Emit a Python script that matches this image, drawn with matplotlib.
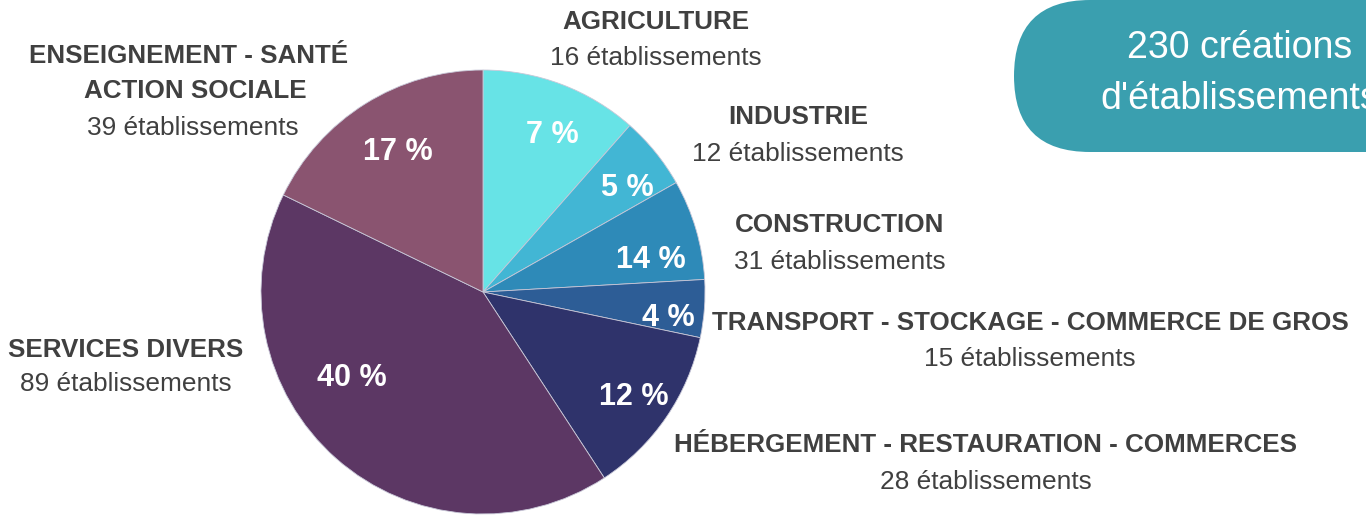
import matplotlib
matplotlib.use('Agg')
import matplotlib.pyplot as plt
from matplotlib.patches import FancyBboxPatch

plt.rcParams['font.family'] = ['Liberation Sans', 'DejaVu Sans']

# data
sectors = ['AGRICULTURE', 'INDUSTRIE', 'CONSTRUCTION',
           'TRANSPORT - STOCKAGE - COMMERCE DE GROS',
           'HÉBERGEMENT - RESTAURATION - COMMERCES',
           'SERVICES DIVERS', 'ENSEIGNEMENT - SANTÉ\nACTION SOCIALE']
counts = [16, 12, 31, 15, 28, 89, 39]
pct_labels = [7, 5, 14, 4, 12, 40, 17]
# slice shares as drawn in the picture (%)
slice_share = [11.5, 5.3, 7.3, 4.2, 12.5, 41.4, 17.8]
total_label = '230 créations\nd\'établissements'

colors = ['#67e3e6', '#42b6d4', '#2e8ab8', '#2d5d96', '#2f336b', '#5c3764', '#8a5470']

W, H = 1366, 515
fig = plt.figure(figsize=(W / 100, H / 100), dpi=100)
ax = fig.add_axes([0, 0, 1, 1])
ax.set_xlim(0, W)
ax.set_ylim(0, H)
ax.set_aspect('equal')
ax.axis('off')

def py(y):  # pixel row -> data y
    return H - y

ax.pie(slice_share, colors=colors, startangle=90, counterclock=False,
       center=(483, py(292)), radius=222,
       wedgeprops=dict(edgecolor='#c8c8d8', linewidth=0.6))
ax.set_xlim(0, W)
ax.set_ylim(0, H)

# percent labels inside slices
pct_pos = [(552, 135), (627, 188), (651, 260), (668, 318), (634, 397), (352, 378), (398, 152)]
for (x, y), p in zip(pct_pos, pct_labels):
    ax.text(x, py(y), f'{p} %', color='white', fontsize=22, fontweight='bold',
            ha='center', va='center')

# outer labels
txt = '#404040'
name_pos = [(656, 22), (798, 117), (840, 225), (1030, 323), (986, 445), (126, 350), None]
count_pos = [(656, 58), (798, 154), (840, 262), (1030, 359), (986, 482), (126, 384), (193, 128)]
for name, pos in zip(sectors, name_pos):
    if pos is None:
        continue
    ax.text(pos[0], py(pos[1]), name, color=txt, fontsize=18.7, fontweight='bold',
            ha='center', va='center')
ax.text(189, py(56), 'ENSEIGNEMENT - SANTÉ', color=txt, fontsize=18.7, fontweight='bold',
        ha='center', va='center')
ax.text(195, py(91), 'ACTION SOCIALE', color=txt, fontsize=18.7, fontweight='bold',
        ha='center', va='center')
for n, (x, y) in zip(counts, count_pos):
    ax.text(x, py(y), f'{n} établissements', color=txt, fontsize=18.9,
            ha='center', va='center')

# total pill
pill = FancyBboxPatch((1014, py(152)), 500, 152,
                      boxstyle='round,pad=0,rounding_size=76',
                      facecolor='#3a9faf', edgecolor='none', clip_on=True)
ax.add_patch(pill)
l1, l2 = total_label.split('\n')
ax.text(1240, py(48), l1, color='white', fontsize=27, ha='center', va='center')
ax.text(1240, py(99), l2, color='white', fontsize=27, ha='center', va='center')

fig.savefig('out.png', dpi=100)
